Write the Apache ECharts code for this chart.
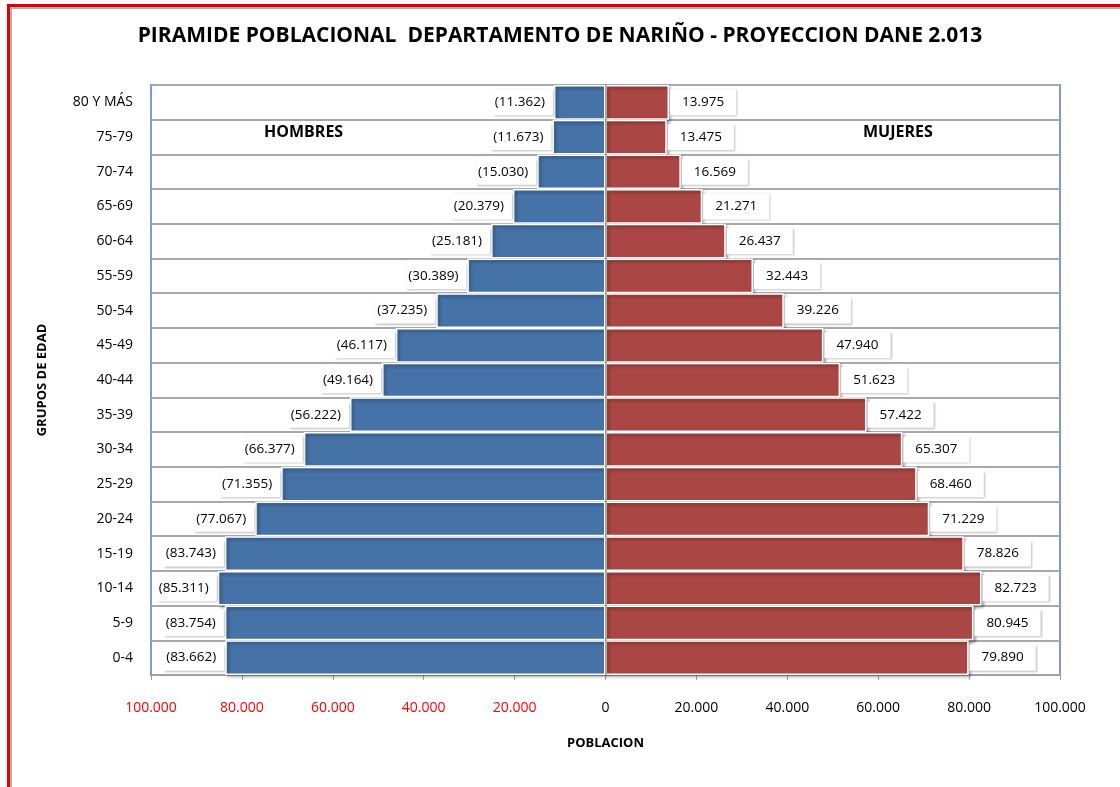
<!DOCTYPE html>
<html>
<head>
<meta charset="utf-8">
<title>Piramide poblacional Nariño</title>
<script src="https://cdn.jsdelivr.net/npm/echarts@6/dist/echarts.min.js"></script>
<style>
html, body { margin:0; padding:0; background:#fff; }
#frame { position:absolute; left:7px; top:4px; width:1120px; height:783px;
  border-top:3px solid #e00000; border-left:3px solid #e00000; box-shadow: inset 2px 2px 0 #b0b0b0; }
#main { position:absolute; left:0; top:0; width:1120px; height:787px; }
</style>
</head>
<body>
<div id="frame"></div>
<div id="main"></div>
<script>
// grupos de edad, de arriba hacia abajo
var grupos = ['80 Y MÁS','75-79','70-74','65-69','60-64','55-59','50-54','45-49','40-44',
  '35-39','30-34','25-29','20-24','15-19','10-14','5-9','0-4'];
var hombres = [11362,11673,15030,20379,25181,30389,37235,46117,49164,
  56222,66377,71355,77067,83743,85311,83754,83662];
var mujeres = [13975,13475,16569,21271,26437,32443,39226,47940,51623,
  57422,65307,68460,71229,78826,82723,80945,79890];

function miles(v) {
  return Math.abs(v).toString().replace(/\B(?=(\d{3})+(?!\d))/g, '.');
}

var labelBox = {
  show: true,
  color: '#000',
  fontSize: 13.5,
  fontFamily: 'Open Sans',
  backgroundColor: '#fff',
  padding: [6, 12, 6, 12],
  shadowColor: 'rgba(0,0,0,0.25)',
  shadowBlur: 2,
  shadowOffsetX: 1,
  shadowOffsetY: 1,
  distance: 1
};

var myChart = echarts.init(document.getElementById('main'));
var option = {
  animation: false,
  title: {
    text: 'PIRAMIDE POBLACIONAL  DEPARTAMENTO DE NARIÑO - PROYECCION DANE 2.013',
    left: 'center', top: 21,
    textStyle: { fontSize: 21, fontWeight: 'bold', color: '#000', fontFamily: 'Open Sans' }
  },
  grid: { left: 151, right: 60, top: 85, bottom: 112, show: true, borderColor: '#7d9ccb', borderWidth: 2 },
  xAxis: {
    type: 'value', min: -100000, max: 100000, interval: 20000,
    name: 'POBLACION', nameLocation: 'middle', nameGap: 62,
    nameTextStyle: { fontSize: 13, fontWeight: 'bold', color: '#000', fontFamily: 'Open Sans' },
    axisLine: { show: true, lineStyle: { color: '#a0a0a0', width: 2 } },
    axisTick: { show: true, length: 5, lineStyle: { color: '#a0a0a0' } },
    splitLine: { show: false },
    axisLabel: {
      margin: 26, fontSize: 14, fontFamily: 'Open Sans',
      formatter: function (v) { return miles(v); },
      color: function (v) { return v < 0 ? '#ff0000' : '#000'; }
    }
  },
  yAxis: {
    type: 'category', data: grupos, inverse: true,
    name: 'GRUPOS DE EDAD', nameLocation: 'middle', nameGap: 102, nameRotate: 90,
    nameTextStyle: { fontSize: 13, fontWeight: 'bold', color: '#000', fontFamily: 'Open Sans' },
    axisLine: { show: false },
    axisTick: { show: false },
    splitLine: { show: true, lineStyle: { color: '#a8a8a8', width: 2 } },
    axisLabel: { margin: 18, fontSize: 14, color: '#000', fontFamily: 'Open Sans' }
  },
  graphic: [
    { type: 'text', left: 264, top: 124, style: { text: 'HOMBRES', font: 'bold 16px "Open Sans"', fill: '#000' } },
    { type: 'text', left: 863, top: 124, style: { text: 'MUJERES', font: 'bold 16px "Open Sans"', fill: '#000' } }
  ],
  series: [
    {
      name: 'Hombres', type: 'bar', stack: 'total', barCategoryGap: 0,
      data: hombres.map(function (v) { return -v; }),
      itemStyle: { color: '#4572a7', borderColor: '#fff', borderWidth: 1.5,
        shadowColor: 'rgba(0,0,0,0.35)', shadowBlur: 3, shadowOffsetX: 2, shadowOffsetY: 2 },
      label: Object.assign({}, labelBox, { position: 'left',
        padding: [6, 8, 6, 2],
        formatter: function (p) { return '(' + miles(p.value) + ')'; } }),
      markLine: {
        silent: true, symbol: 'none', label: { show: false },
        lineStyle: { color: '#909090', width: 1.5, type: 'solid' },
        data: [{ xAxis: 0 }]
      }
    },
    {
      name: 'Mujeres', type: 'bar', stack: 'total', barCategoryGap: 0,
      data: mujeres,
      itemStyle: { color: '#aa4643', borderColor: '#fff', borderWidth: 1.5,
        shadowColor: 'rgba(0,0,0,0.35)', shadowBlur: 3, shadowOffsetX: 2, shadowOffsetY: 2 },
      label: Object.assign({}, labelBox, { position: 'right',
        formatter: function (p) { return miles(p.value); } })
    }
  ]
};
myChart.setOption(option);
</script>
</body>
</html>
